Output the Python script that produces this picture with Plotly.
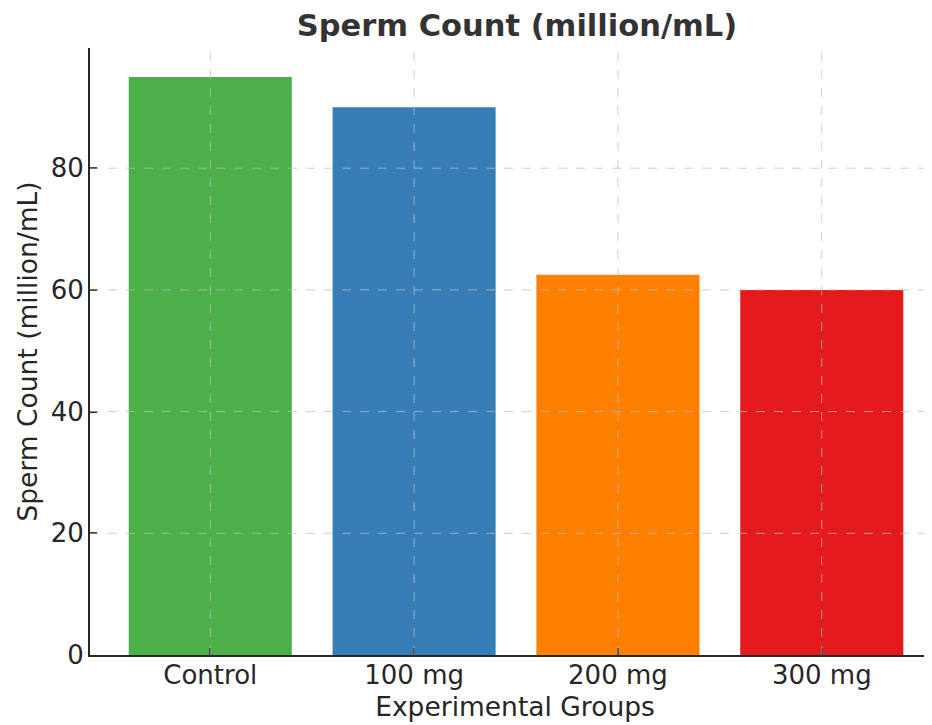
import plotly.graph_objects as go

categories = ["Control", "100 mg", "200 mg", "300 mg"]
sperm_count = [95.0, 90.0, 62.5, 60.0]
bar_colors = ["#4daf4a", "#377eb8", "#ff7f00", "#e41a1c"]
y_ticks = [0, 20, 40, 60, 80]

TXT = "#262626"
FONT = "DejaVu Sans"

fig = go.Figure()
fig.add_trace(go.Bar(
    x=list(range(len(categories))), y=sperm_count,
    marker=dict(color=bar_colors, line=dict(width=0)),
    width=0.8, showlegend=False,
))

grid_style = dict(color="rgba(190,190,190,0.75)", width=1, dash="dash")
shapes = []
for i in range(len(categories)):
    shapes.append(dict(type="line", xref="x", yref="paper", x0=i, x1=i, y0=0, y1=1,
                       line=grid_style, layer="above"))
for t in y_ticks[1:]:
    shapes.append(dict(type="line", xref="paper", yref="y", x0=0, x1=1, y0=t, y1=t,
                       line=grid_style, layer="above"))

fig.update_layout(
    width=932, height=725,
    margin=dict(l=82, r=0, t=40, b=78),
    paper_bgcolor="white", plot_bgcolor="white",
    font=dict(family=FONT, color=TXT),
    title=dict(text="<b>Sperm Count (million/mL)</b>", font=dict(size=30.5, color="#333333", family=FONT),
               xref="container", x=509/932, xanchor="center",
               yref="container", y=1-17/725, yanchor="middle"),
    shapes=shapes,
)
fig.update_xaxes(
    range=[-0.59, 3.58],
    tickmode="array", tickvals=list(range(len(categories))), ticktext=categories,
    tickfont=dict(size=26, color=TXT),
    ticks="inside", ticklen=7, tickwidth=1.5, tickcolor=TXT,
    ticklabelstandoff=-4,
    showline=True, linecolor=TXT, linewidth=2,
    showgrid=False, zeroline=False,
    title=dict(text="Experimental Groups", font=dict(size=26.5, color=TXT), standoff=8),
)
fig.update_yaxes(
    range=[0, 99.75],
    tickmode="array", tickvals=y_ticks,
    tickfont=dict(size=26, color=TXT),
    ticks="inside", ticklen=7, tickwidth=1.5, tickcolor=TXT,
    ticklabelstandoff=-1,
    showline=True, linecolor=TXT, linewidth=2,
    showgrid=False, zeroline=False,
    title=dict(text="Sperm Count (million/mL)", font=dict(size=26.5, color=TXT), standoff=5),
)

fig.write_html("out.html")
